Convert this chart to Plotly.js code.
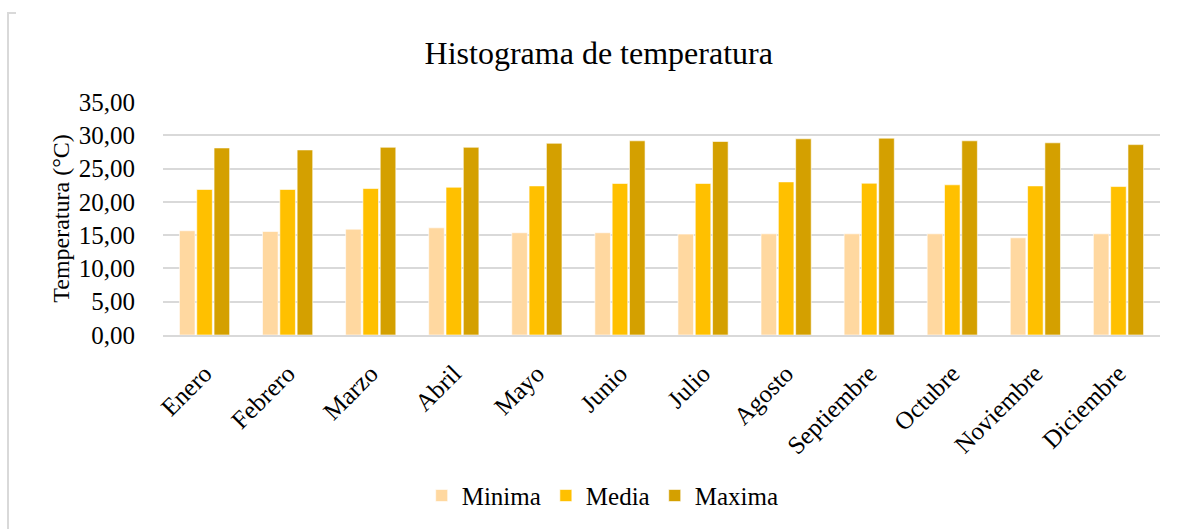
<!DOCTYPE html>
<html>
<head>
<meta charset="utf-8">
<script src="https://cdn.plot.ly/plotly-3.0.1.min.js"></script>
<style>
html,body{margin:0;padding:0;background:#fff;}
#wrap{position:relative;width:1181px;height:529px;}
#chart{width:1181px;height:529px;}
#bl{position:absolute;left:7px;top:12px;width:2px;height:517px;background:#d9d9d9;}
#bt{position:absolute;left:7px;top:12px;width:9px;height:2px;background:#d9d9d9;}
</style>
</head>
<body>
<div id="wrap">
<div id="chart"></div>
<div id="bl"></div>
<div id="bt"></div>
</div>
<script>
const meses = ["Enero","Febrero","Marzo","Abril","Mayo","Junio","Julio","Agosto","Septiembre","Octubre","Noviembre","Diciembre"];
const minima = [15.66,15.55,15.90,16.10,15.36,15.36,15.16,15.20,15.20,15.20,14.60,15.20];
const media  = [21.86,21.86,22.00,22.20,22.40,22.76,22.76,23.00,22.80,22.56,22.40,22.30];
const maxima = [28.10,27.80,28.20,28.20,28.80,29.17,29.07,29.47,29.57,29.17,28.87,28.60];
const yTicks = [0,5,10,15,20,25,30,35];
const yTickText = ["0,00","5,00","10,00","15,00","20,00","25,00","30,00","35,00"];

const font = "Liberation Serif, Times New Roman, serif";
const mk = (name, y, color) => ({
  type: "bar", name: name, x: meses, y: y,
  marker: {color: color, line: {color: "rgba(255,255,255,0.6)", width: 1}}
});
const data = [
  mk("Minima", minima, "#FFD8A0"),
  mk("Media", media, "#FFC000"),
  mk("Maxima", maxima, "#D4A000")
];
const layout = {
  width: 1181, height: 529,
  margin: {l: 163, r: 21, t: 102, b: 194, autoexpand: false},
  paper_bgcolor: "#fff", plot_bgcolor: "#fff",
  font: {family: font, color: "#000", size: 25},
  title: {text: "Histograma de temperatura", font: {family: font, size: 32, color: "#000"},
          x: 0.507, xanchor: "center", y: 0.9, yanchor: "middle"},
  barmode: "group", bargap: 0.375, bargroupgap: 0.1,
  xaxis: {type: "category", tickmode: "array", tickvals: meses, tickangle: -45,
          tickfont: {size: 25, family: font}, automargin: false,
          showgrid: false, showline: true, linecolor: "#d9d9d9", linewidth: 2,
          ticks: "outside", ticklen: 12, tickcolor: "rgba(0,0,0,0)", zeroline: false},
  yaxis: {range: [0, 35], tickvals: yTicks, ticktext: yTickText, automargin: false,
          tickfont: {size: 25, family: font}, showgrid: true, gridcolor: "#d9d9d9", gridwidth: 2,
          zeroline: false, showline: false, ticks: "outside", ticklen: 22, tickcolor: "rgba(0,0,0,0)",
          title: {text: "Temperatura (°C)", font: {size: 24, family: font}, standoff: 2}},
  legend: {orientation: "h", x: 0.441, xanchor: "center", y: -0.69, yanchor: "middle",
           font: {size: 25, family: font}, itemwidth: 30, traceorder: "normal"},
  showlegend: true
};
Plotly.newPlot("chart", data, layout, {displayModeBar: false, staticPlot: true});
</script>
</body>
</html>
